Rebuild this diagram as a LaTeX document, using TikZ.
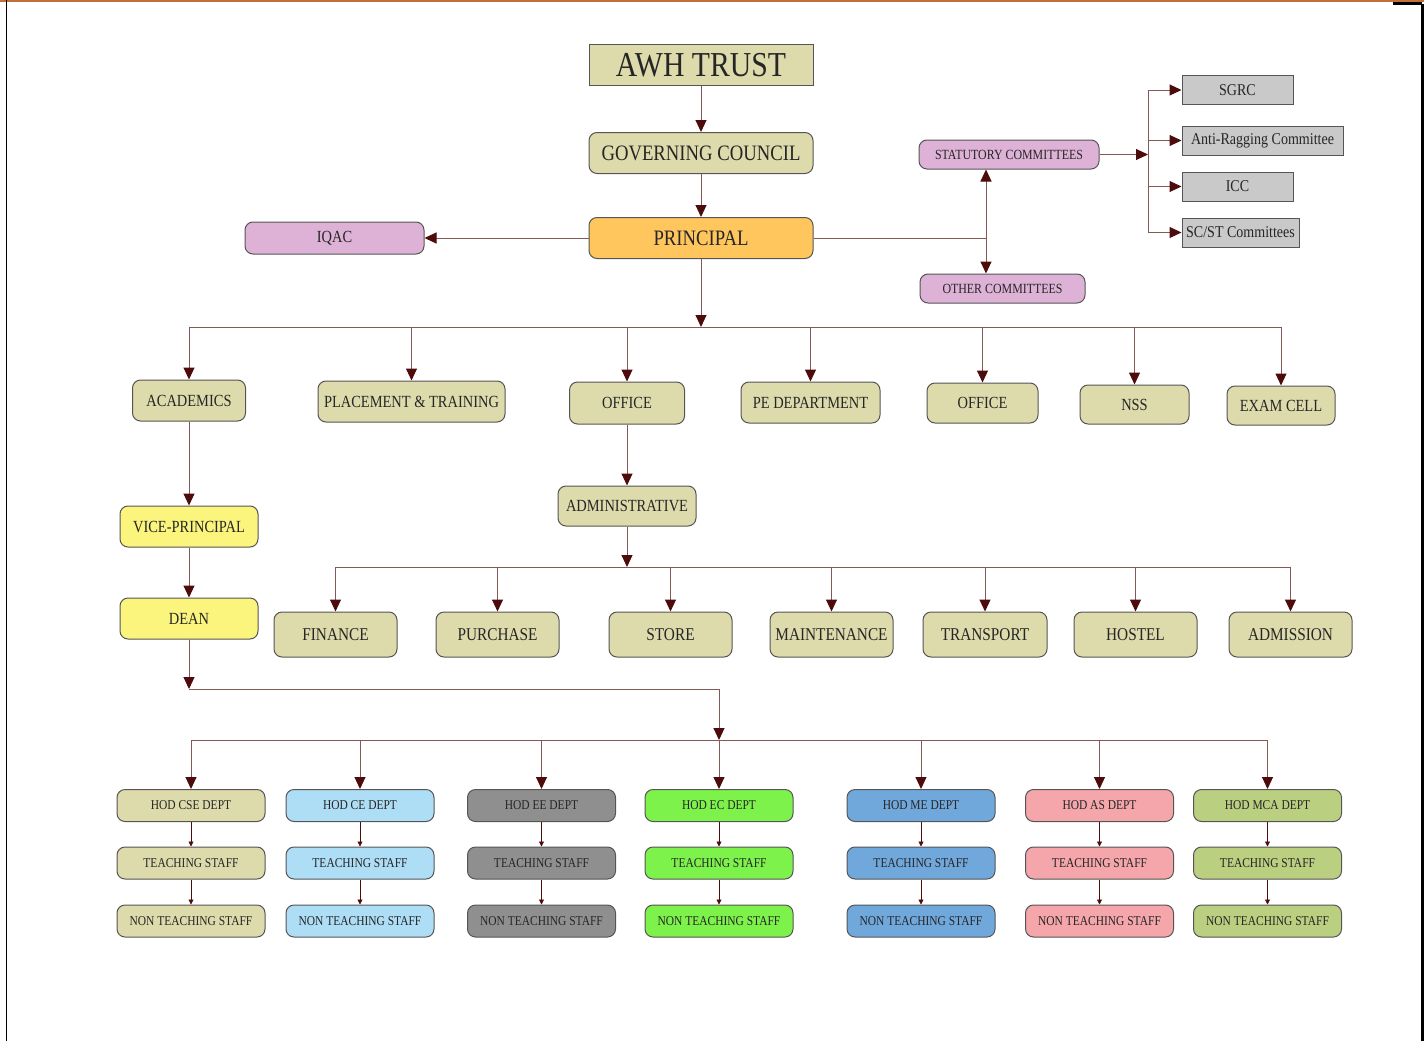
\documentclass[tikz,border=0pt]{standalone}
\usepackage{fontspec}
\setmainfont[FakeStretch=0.85]{Liberation Serif}
\usetikzlibrary{arrows.meta,positioning}

\definecolor{khaki}{HTML}{DDDAAB}
\definecolor{boxline}{HTML}{555555}
\definecolor{lilac}{HTML}{DDB2D6}
\definecolor{amber}{HTML}{FFC65E}
\definecolor{lemon}{HTML}{FBF47D}
\definecolor{silver}{HTML}{C9C9C9}
\definecolor{linec}{HTML}{855858}
\definecolor{tipc}{HTML}{4D0B0B}
\definecolor{txt}{HTML}{262626}
\definecolor{ceblue}{HTML}{AEDDF6}
\definecolor{eegrey}{HTML}{8F8F90}
\definecolor{ecgreen}{HTML}{7DF24B}
\definecolor{meblue}{HTML}{70A8DC}
\definecolor{asrose}{HTML}{F4A6AB}
\definecolor{mcaolive}{HTML}{BACF80}
\definecolor{rimorange}{HTML}{C0713A}

\newcommand\fsz[1]{\fontsize{#1}{#1}\selectfont}

\begin{document}
\begin{tikzpicture}[x=1pt, y=-1pt, on grid,
	line/.style={draw=linec, line width=1pt},
	arr/.style={color=linec, line width=1pt, -{Triangle[length=12pt,width=11pt,color=tipc]}},
	sarr/.style={color=tipc, line width=0.8pt, -{Triangle[length=5pt,width=5pt]}},
	box/.style={draw=boxline, line width=1pt, rounded corners=8pt, inner sep=0pt, text=txt},
	mainbox/.style={box, minimum width=224pt, minimum height=41pt, font=\fsz{22}},
	pinkbox/.style={box, fill=lilac, minimum width=180pt, minimum height=29pt, font=\fsz{14}},
	greybox/.style={draw=boxline, line width=1pt, fill=silver, inner sep=0pt, text=txt, minimum height=29pt, font=\fsz{16.5}},
	rowbox/.style={box, fill=khaki, minimum height=41pt, font=\fsz{17}},
	wardbox/.style={box, fill=khaki, minimum width=123pt, minimum height=45pt, font=\fsz{18}},
	deptbox/.style={box, fill=#1, minimum width=148pt, minimum height=32pt, font=\fsz{13.5}}]

	\useasboundingbox (0,0) rectangle (1424,1041);
	% page frame
	\draw[rimorange, line width=1.5pt] (0,1) -- (1424,1);
	\draw[black, line width=1pt] (6,0) -- (6,1041);
	\draw[black, line width=3pt] (1422,4) -- (1422,1041);
	\draw[black, line width=3pt] (1393,4) -- (1422,4);

	% top
	\node[draw=boxline, line width=1pt, fill=khaki, minimum width=224pt, minimum height=40pt, inner sep=0pt, text=txt, font=\fsz{35}](trust) at (701,65){AWH TRUST};
	\node[mainbox, fill=khaki](council) at (701,153){GOVERNING COUNCIL};
	\node[mainbox, fill=amber](principal) at (701,238){PRINCIPAL};
	\node[pinkbox, minimum width=179pt, minimum height=32pt, font=\fsz{17}](iqac) at (334.5,238){IQAC};

	% committees
	\node[pinkbox](statutory) at (1009,154.5){STATUTORY COMMITTEES};
	\node[pinkbox, minimum width=165pt](other) at (1002.5,288.5){OTHER COMMITTEES};
	\node[greybox, minimum width=111pt](sgrc) at (1237.5,90){SGRC};
	\node[greybox, minimum width=161pt](anti) at (1262.5,140.5){Anti-Ragging Committee};
	\node[greybox, minimum width=111pt](icc) at (1237.5,186.5){ICC};
	\node[greybox, minimum width=117pt](scst) at (1240.5,232.5){SC/ST Committees};
	\coordinate (cj) at (986,238);
	\coordinate (sj) at (1148,154.5);

	% second row
	\node[rowbox, minimum width=113pt](academics) at (189,400.5){ACADEMICS};
	\node[rowbox, minimum width=187pt](placement) at (411.5,401.5){PLACEMENT \& TRAINING};
	\node[rowbox, minimum width=115pt, minimum height=42pt](office) at (627,403){OFFICE};
	\node[rowbox, minimum width=139pt](pe) at (810.5,402.5){PE DEPARTMENT};
	\node[rowbox, minimum width=111pt, minimum height=40pt](office2) at (982.5,403){OFFICE};
	\node[rowbox, minimum width=109pt, minimum height=39pt](nss) at (1134.5,404.5){NSS};
	\node[rowbox, minimum width=108pt, minimum height=39pt](exam) at (1281,405.5){EXAM CELL};
	\coordinate (bus1) at (701,327);

	\node[rowbox, fill=lemon, minimum width=138pt](vp) at (189,526.5){VICE-PRINCIPAL};
	\node[rowbox, fill=lemon, minimum width=138pt](dean) at (189,618.5){DEAN};
	\node[rowbox, minimum width=138pt, minimum height=40pt](admin) at (627,506){ADMINISTRATIVE};

	% administrative sections
	\node[wardbox](finance) at (335.5,634.5){FINANCE};
	\node[wardbox](purchase) at (497.5,634.5){PURCHASE};
	\node[wardbox](store) at (670.5,634.5){STORE};
	\node[wardbox](maintenance) at (831.5,634.5){MAINTENANCE};
	\node[wardbox, minimum width=124pt](transport) at (985,634.5){TRANSPORT};
	\node[wardbox](hostel) at (1135.5,634.5){HOSTEL};
	\node[wardbox](admission) at (1290.5,634.5){ADMISSION};
	\coordinate (bus2) at (627,567);

	% departments
	\foreach \d/\x/\c/\t in {cse/191/khaki/CSE, ce/360/ceblue/CE, ee/541.5/eegrey/EE, ec/719/ecgreen/EC,
		me/921/meblue/ME, as/1099.5/asrose/AS, mca/1267.5/mcaolive/MCA}{
		\node[deptbox=\c](hod\d) at (\x,805.5){HOD \t{} DEPT};
		\node[deptbox=\c](teach\d)[below=57.5pt of hod\d]{TEACHING STAFF};
		\node[deptbox=\c](nonteach\d)[below=58pt of teach\d]{NON TEACHING STAFF};
		\path[sarr] (hod\d) edge (teach\d)
			(teach\d) edge (nonteach\d);
	}
	\coordinate (d1) at (189,689);
	\coordinate (d2) at (719,689);
	\coordinate (bus3) at (719,740);

	% connectors
	\path[arr]
	(trust) edge (council)
	(council) edge (principal)
	(principal) edge (iqac)
		edge (bus1)
	(cj) edge (cj |- statutory.south)
		edge (cj |- other.north)
	(statutory) edge (sj)
	(sj |- sgrc) edge (sgrc)
	(sj |- anti) edge (anti)
	(sj |- icc) edge (icc)
	(sj |- scst) edge (scst);
	\draw[line] (principal) -- (cj);
	\draw[line] (sj |- sgrc) -- (sj |- scst);

	\draw[line] (bus1 -| academics) -- (bus1 -| exam);
	\path[arr]
	(bus1 -| academics) edge (academics)
	(bus1 -| placement) edge (placement)
	(bus1 -| office) edge (office)
	(bus1 -| pe) edge (pe)
	(bus1 -| office2) edge (office2)
	(bus1 -| nss) edge (nss)
	(bus1 -| exam) edge (exam)
	(academics) edge (vp)
	(vp) edge (dean)
	(office) edge (admin)
	(admin) edge (bus2);

	\draw[line] (bus2 -| finance) -- (bus2 -| admission);
	\path[arr]
	(bus2 -| finance) edge (finance)
	(bus2 -| purchase) edge (purchase)
	(bus2 -| store) edge (store)
	(bus2 -| maintenance) edge (maintenance)
	(bus2 -| transport) edge (transport)
	(bus2 -| hostel) edge (hostel)
	(bus2 -| admission) edge (admission);

	\draw[line] (d1) -- (d2);
	\draw[line] (bus3 -| hodcse) -- (bus3 -| hodmca);
	\path[arr]
	(dean) edge (d1)
	(d2) edge (bus3)
	(bus3 -| hodcse) edge (hodcse)
	(bus3 -| hodce) edge (hodce)
	(bus3 -| hodee) edge (hodee)
	(bus3) edge (hodec)
	(bus3 -| hodme) edge (hodme)
	(bus3 -| hodas) edge (hodas)
	(bus3 -| hodmca) edge (hodmca);
\end{tikzpicture}
\end{document}
